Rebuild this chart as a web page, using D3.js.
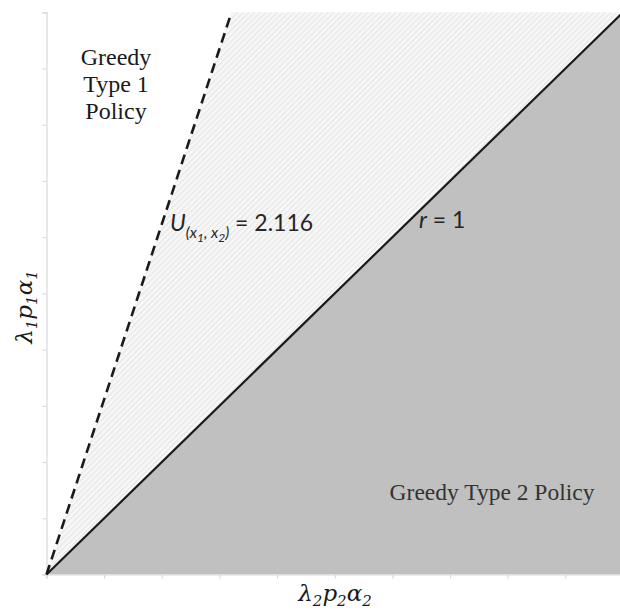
<!DOCTYPE html>
<html>
<head>
<meta charset="utf-8">
<script src="https://cdn.jsdelivr.net/npm/d3@7"></script>
<style>
  body { margin: 0; background: #fff; }
  svg { display: block; }
</style>
</head>
<body>
<div id="chart"></div>
<script>
// axis ticks (no labels shown on the original)
var xTicks = [0, 1, 2, 3, 4, 5, 6, 7, 8, 9, 10];
var yTicks = [0, 1, 2, 3, 4, 5, 6, 7, 8, 9, 10];
// boundary lines through the origin: lambda1 p1 a1 = slope * lambda2 p2 a2
var boundaryNames = ["r = 1", "U = 2.116"];
var boundarySlopes = [1, 3.116];
var domainMax = 10;

var width = 620, height = 611;
var svg = d3.select("#chart").append("svg")
    .attr("width", width)
    .attr("height", height);

var x = d3.scaleLinear().domain([0, domainMax]).range([46.5, 623]);
var y = d3.scaleLinear().domain([0, domainMax]).range([574.5, 12.3]);

// hatch pattern for the region between the two lines
var defs = svg.append("defs");
var pat = defs.append("pattern")
    .attr("id", "hatch")
    .attr("patternUnits", "userSpaceOnUse")
    .attr("width", 4)
    .attr("height", 4)
    .attr("patternTransform", "rotate(-45)");
pat.append("rect").attr("width", 4).attr("height", 4).attr("fill", "#f8f8f8");
pat.append("rect").attr("width", 4).attr("height", 1.5).attr("fill", "#e8e8e8");

var solidSlope = boundarySlopes[0];
var dashSlope = boundarySlopes[1];

// Greedy Type 2 region (below r = 1)
var area = d3.line().x(d => x(d[0])).y(d => y(d[1]));
svg.append("path")
    .attr("d", area([[0, 0], [domainMax, domainMax * solidSlope], [domainMax, 0]]) + "Z")
    .attr("fill", "#bfc0bf");

// hatched region between the lines
svg.append("path")
    .attr("d", area([[0, 0], [domainMax / dashSlope, domainMax], [domainMax / solidSlope, domainMax]]) + "Z")
    .attr("fill", "url(#hatch)");

// axes
var xAxis = svg.append("g")
    .attr("transform", "translate(0," + y(0) + ")")
    .call(d3.axisBottom(x).tickValues(xTicks).tickSize(4).tickFormat(""));
var yAxis = svg.append("g")
    .attr("transform", "translate(" + x(0) + ",0)")
    .call(d3.axisLeft(y).tickValues(yTicks).tickSize(4).tickFormat(""));
[xAxis, yAxis].forEach(function (g) {
    g.select(".domain").attr("stroke", "#d9d9d9").attr("stroke-width", 1.2);
    g.selectAll(".tick line").attr("stroke", "#d9d9d9").attr("stroke-width", 1.2);
});

// boundary lines
svg.append("line")
    .attr("x1", x(0)).attr("y1", y(0))
    .attr("x2", x(domainMax / solidSlope)).attr("y2", y(domainMax))
    .attr("stroke", "#1a1a1a")
    .attr("stroke-width", 2.2);

svg.append("line")
    .attr("x1", x(0)).attr("y1", y(0))
    .attr("x2", x(domainMax / dashSlope)).attr("y2", y(domainMax))
    .attr("stroke", "#1a1a1a")
    .attr("stroke-width", 2.6)
    .attr("stroke-dasharray", "10,6");

// region labels
var t1 = svg.append("text")
    .attr("font-family", "'Liberation Serif', 'Times New Roman', serif")
    .attr("font-size", 24)
    .attr("fill", "#1a1a1a")
    .attr("text-anchor", "middle");
["Greedy", "Type 1", "Policy"].forEach(function (s, i) {
    t1.append("tspan").attr("x", 116).attr("y", 65 + i * 27).text(s);
});

svg.append("text")
    .attr("x", 492).attr("y", 500)
    .attr("font-family", "'Liberation Serif', 'Times New Roman', serif")
    .attr("font-size", 23.5)
    .attr("fill", "#333")
    .attr("text-anchor", "middle")
    .text("Greedy Type 2 Policy");

// U label
var u = svg.append("text")
    .attr("x", 170).attr("y", 231)
    .attr("font-family", "Lato, 'Open Sans', sans-serif")
    .attr("font-size", 23)
    .attr("fill", "#262626");
u.append("tspan").attr("font-style", "italic").text("U");
u.append("tspan").attr("font-style", "italic").attr("font-size", 15.5).attr("y", 238).text("(x");
u.append("tspan").attr("font-style", "italic").attr("font-size", 12).attr("y", 242).text("1");
u.append("tspan").attr("font-style", "italic").attr("font-size", 15.5).attr("y", 238).text(", x");
u.append("tspan").attr("font-style", "italic").attr("font-size", 12).attr("y", 242).text("2");
u.append("tspan").attr("font-style", "italic").attr("font-size", 15.5).attr("y", 238).text(")");
u.append("tspan").attr("y", 231).text(" = 2.116");

// r label
var r = svg.append("text")
    .attr("x", 419).attr("y", 228)
    .attr("font-family", "Lato, 'Open Sans', sans-serif")
    .attr("font-size", 23)
    .attr("fill", "#262626");
r.append("tspan").attr("font-style", "italic").text("r");
r.append("tspan").text(" = 1");

// axis titles
function mathLabel(sel, sub) {
    ["λ", "p", "α"].forEach(function (s, i) {
        sel.append("tspan").attr("font-size", 23).attr("dy", i === 0 ? 0 : -5).text(s);
        sel.append("tspan").attr("font-size", 15).attr("dy", 5).text(sub);
    });
}
var xt = svg.append("text")
    .attr("x", 335).attr("y", 601)
    .attr("text-anchor", "middle")
    .attr("font-family", "'DejaVu Serif', serif")
    .attr("font-style", "italic")
    .attr("fill", "#1a1a1a");
mathLabel(xt, "2");

var yt = svg.append("text")
    .attr("transform", "translate(32,307) rotate(-90)")
    .attr("text-anchor", "middle")
    .attr("font-family", "'DejaVu Serif', serif")
    .attr("font-style", "italic")
    .attr("fill", "#1a1a1a");
mathLabel(yt, "1");
</script>
</body>
</html>
